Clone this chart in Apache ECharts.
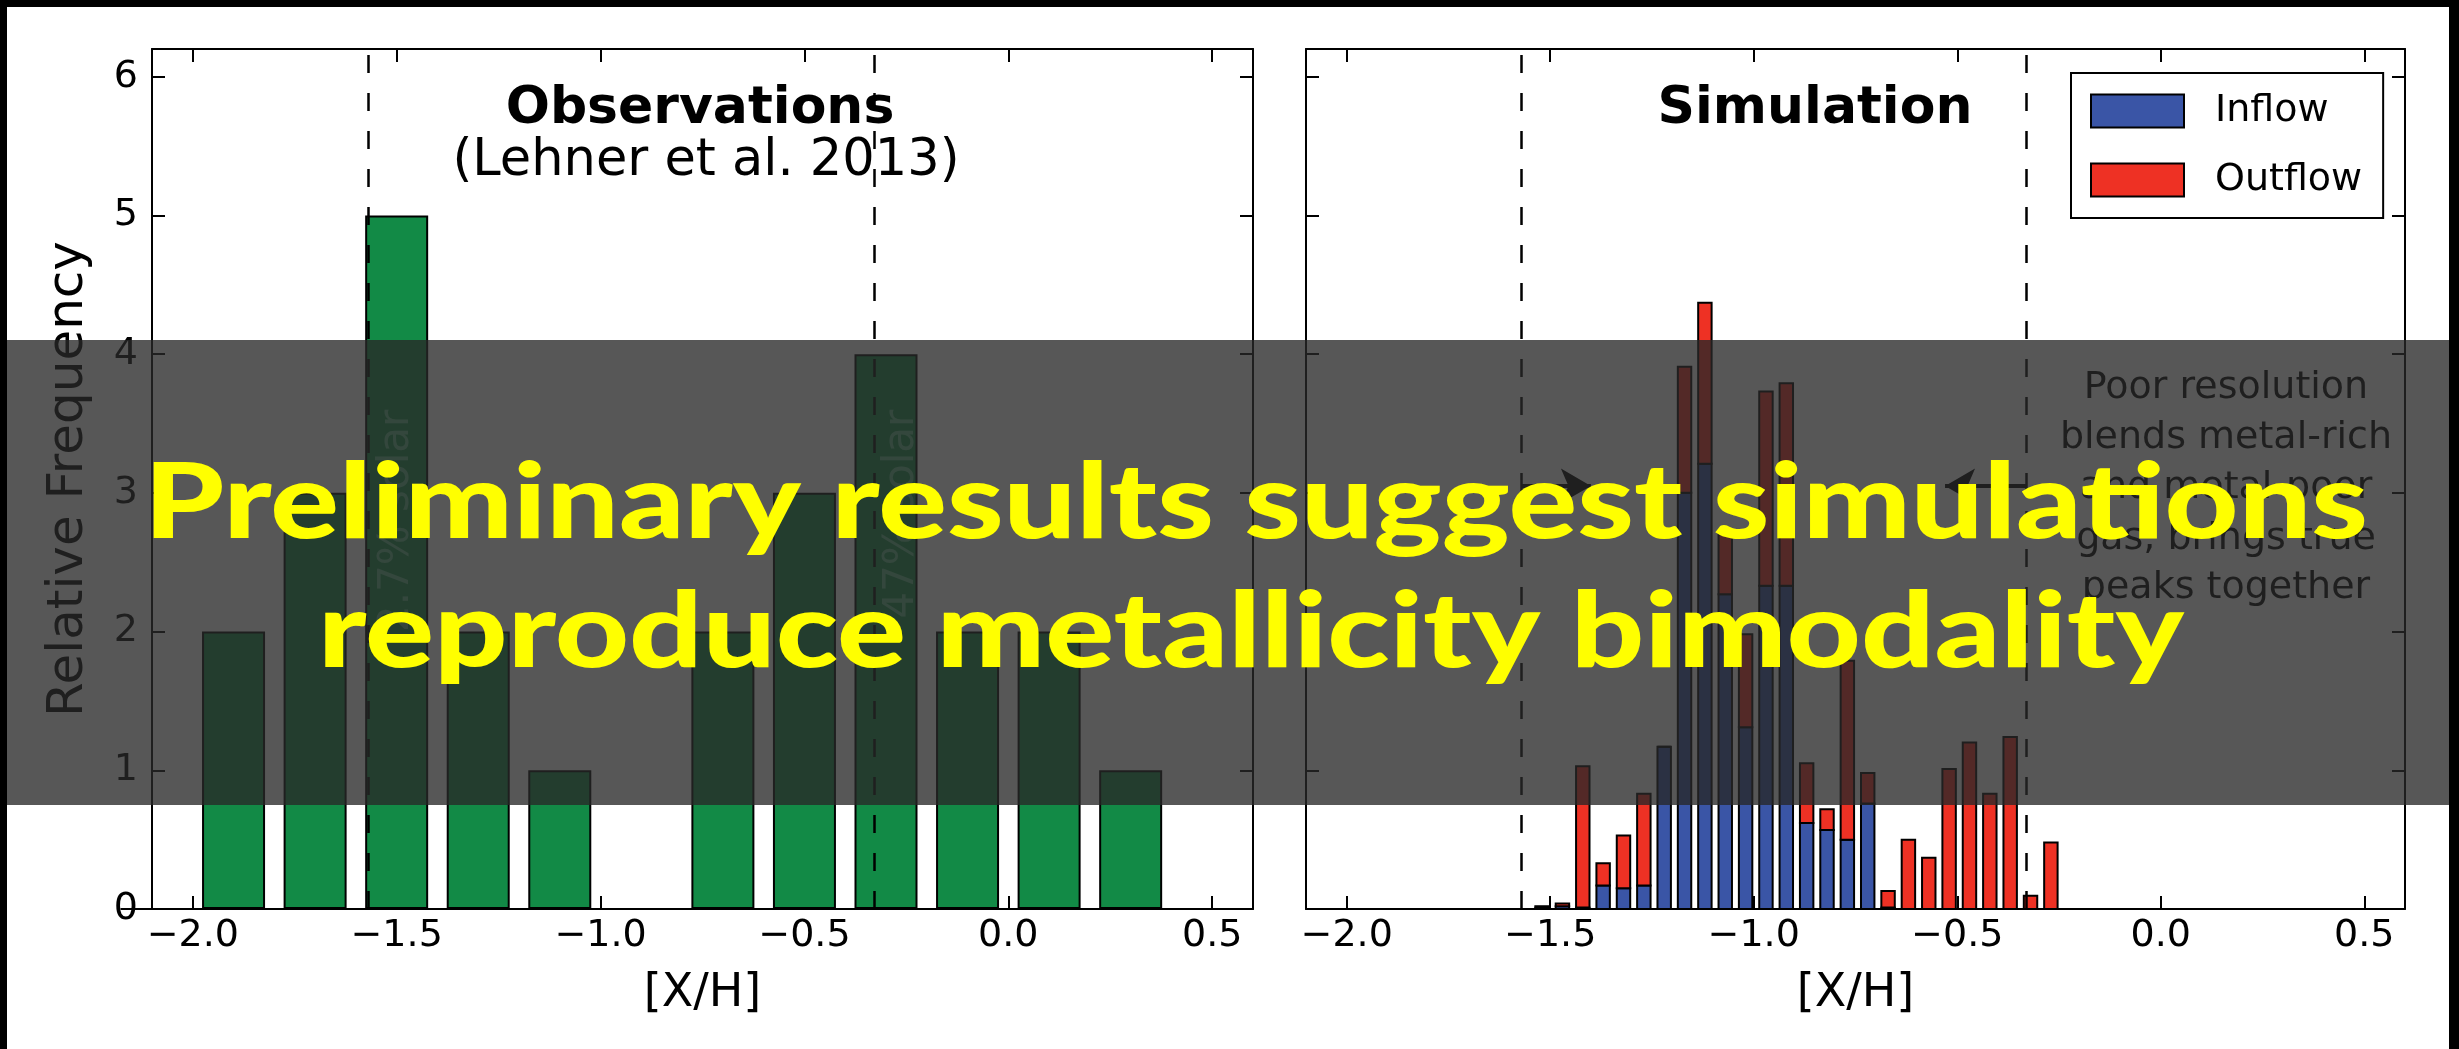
<!DOCTYPE html>
<html>
<head>
<meta charset="utf-8">
<title>Metallicity distributions: observations vs simulation</title>
<script src="https://cdn.jsdelivr.net/npm/echarts@6/dist/echarts.min.js"></script>
<style>
  html, body { margin: 0; padding: 0; background: #000; }
  #chart { width: 2459px; height: 1049px; }
</style>
</head>
<body>
<div id="chart"></div>
<script>
// ---- data -------------------------------------------------------------
// Tick positions shared by both panels
const xTicks = [-2.0, -1.5, -1.0, -0.5, 0.0, 0.5];
const yTicks = [0, 1, 2, 3, 4, 5, 6];

// Observed absorber metallicities (Lehner et al. 2013), bins of 0.2 dex
const obsBins   = [-2.1, -1.9, -1.7, -1.5, -1.3, -1.1, -0.9, -0.7, -0.5, -0.3, -0.1, 0.1, 0.3, 0.5];
const obsCounts = [0, 2, 3, 5, 2, 1, 0, 2, 3, 4, 2, 2, 1, 0];

// Simulated absorbers, bins of 0.05 dex, split into inflowing / outflowing gas
const simBins    = [-1.52, -1.47, -1.42, -1.37, -1.32, -1.27, -1.22, -1.17, -1.12, -1.07, -1.02, -0.97, -0.92,
                    -0.87, -0.82, -0.77, -0.72, -0.67, -0.62, -0.57, -0.52, -0.47, -0.42, -0.37, -0.32, -0.27];
const simInflow  = [0.01, 0.02, 0.01, 0.17, 0.15, 0.17, 1.17, 3.00, 3.21, 2.27, 1.31, 2.33, 2.33,
                    0.62, 0.57, 0.50, 0.76, 0.01, 0, 0, 0, 0, 0, 0, 0, 0];
const simOutflow = [0.01, 0.02, 1.02, 0.16, 0.38, 0.66, 0.00, 0.91, 1.16, 0.43, 0.67, 1.40, 1.46,
                    0.43, 0.15, 1.29, 0.22, 0.12, 0.50, 0.37, 1.01, 1.20, 0.83, 1.24, 0.095, 0.48];

// The two metallicity peaks of the observed bimodal distribution
const peakMetallicity = [-1.57, -0.33];
const peakLabels      = ['2.7% solar', '47% solar'];

// Caption lines
const captionLines = ['Preliminary results suggest simulations', 'reproduce metallicity bimodality'];

// ---- styling ----------------------------------------------------------
const FONT = 'DejaVu Sans';
const GREEN = '#128a46';
const BLUE = '#3a55a6';
const RED = '#ee3124';
const CAPTION_FONT = '900 104px Lato';

const tickLabel = v => (v < 0 ? '\u2212' : '') + Math.abs(v).toFixed(1);

function xAxes(grid) {
  const common = {
    type: 'value', gridIndex: grid, min: -2.1, max: 0.6,
    splitLine: { show: false },
    axisLine: { show: true, onZero: false, lineStyle: { color: '#000', width: 2 } },
    axisTick: { show: true, inside: true, length: 13, customValues: xTicks,
                lineStyle: { color: '#000', width: 2 } }
  };
  return [
    Object.assign({}, common, {
      position: 'bottom',
      axisLabel: { show: true, customValues: xTicks, formatter: tickLabel, margin: 8,
                   fontFamily: FONT, fontSize: 38, color: '#000' },
      name: '[X/H]', nameLocation: 'middle', nameGap: 62,
      nameTextStyle: { fontFamily: FONT, fontSize: 46, color: '#000' }
    }),
    Object.assign({}, common, { position: 'top', axisLabel: { show: false } })
  ];
}

function yAxes(grid, withLabels) {
  const common = {
    type: 'value', gridIndex: grid, min: 0, max: 6.2,
    splitLine: { show: false },
    axisLine: { show: true, onZero: false, lineStyle: { color: '#000', width: 2 } },
    axisTick: { show: true, inside: true, length: 13, customValues: yTicks,
                lineStyle: { color: '#000', width: 2 } }
  };
  return [
    Object.assign({}, common, {
      position: 'left',
      axisLabel: { show: withLabels, customValues: yTicks, margin: 14,
                   fontFamily: FONT, fontSize: 38, color: '#000' },
      name: withLabels ? 'Relative Frequency' : '', nameLocation: 'middle', nameGap: 58,
      nameTextStyle: { fontFamily: FONT, fontSize: 50, color: '#000' }
    }),
    Object.assign({}, common, { position: 'right', axisLabel: { show: false } })
  ];
}

const dashedPeaks = {
  silent: true, symbol: 'none',
  label: { show: false },
  lineStyle: { color: '#000', width: 2.5, type: [18, 20] },
  data: peakMetallicity.map(v => ({ xAxis: v }))
};

// One stacked layer of the simulation histogram: inflow sits on the axis,
// outflow sits on top of the inflow of the same bin.
const simData = simBins.map((x, i) => [x, simInflow[i], simOutflow[i]]);
function simLayer(name, color, onTop) {
  return {
    name: name, type: 'custom', xAxisIndex: 2, yAxisIndex: 2,
    data: simData,
    encode: { x: 0, y: onTop ? [1, 2] : 1 },
    itemStyle: { color: color },
    z: 2,
    renderItem: function (params, api) {
      const x = api.value(0), inflow = api.value(1), outflow = api.value(2);
      const lo = onTop ? inflow : 0;
      const hi = onTop ? inflow + outflow : inflow;
      const base = api.coord([x, lo]);
      const top = api.coord([x, hi]);
      const w = api.size([0.033, 0])[0];
      return {
        type: 'rect',
        shape: { x: base[0] - w / 2, y: top[1], width: w, height: base[1] - top[1] },
        style: { fill: color, stroke: '#000', lineWidth: 2 }
      };
    }
  };
}

const text = (str, x, y, size, weight) => ({
  type: 'text', z: 10, x: x, y: y,
  style: { text: str, fill: '#000', font: (weight || 'normal') + ' ' + size + 'px "' + FONT + '"',
           align: 'center', verticalAlign: 'middle' }
});

// Caption lines are stretched horizontally to a fixed line width.
const measureCtx = document.createElement('canvas').getContext('2d');
measureCtx.font = CAPTION_FONT;
const captionWidths = [2224, 1866];
const caption = (i, x, y) => ({
  type: 'text', z: 101, x: x, y: y,
  scaleX: captionWidths[i] / measureCtx.measureText(captionLines[i]).width,
  style: { text: captionLines[i], fill: '#ffff00', font: CAPTION_FONT,
           align: 'center', verticalAlign: 'middle' }
});

const chart = echarts.init(document.getElementById('chart'), null, { renderer: 'canvas' });

chart.setOption({
  backgroundColor: '#fff',
  animation: false,
  grid: [
    { left: 152, top: 49, width: 1101, height: 860 },
    { left: 1306, top: 49, width: 1099, height: 860 }
  ],
  xAxis: xAxes(0).concat(xAxes(1)),
  yAxis: yAxes(0, true).concat(yAxes(1, false)),
  legend: {
    data: [
      { name: 'Inflow', itemStyle: { color: BLUE, borderColor: '#000', borderWidth: 2 } },
      { name: 'Outflow', itemStyle: { color: RED, borderColor: '#000', borderWidth: 2 } }
    ],
    orient: 'vertical', left: 2071, top: 73,
    icon: 'rect', itemWidth: 93, itemHeight: 33, itemGap: 31,
    padding: [19, 21, 19, 19], borderColor: '#000', borderWidth: 2, backgroundColor: '#fff',
    selectedMode: false,
    textStyle: { fontFamily: FONT, fontSize: 38, color: '#000', lineHeight: 33, padding: [0, 0, 0, 26] }
  },
  series: [
    {
      name: 'Observations', type: 'bar', xAxisIndex: 0, yAxisIndex: 0,
      barWidth: 63,
      itemStyle: { color: GREEN, borderColor: '#000', borderWidth: 2 },
      data: obsBins.map((x, i) => [x, obsCounts[i]]),
      markLine: dashedPeaks
    },
    {
      // rotated metallicity labels beside the dashed peak lines
      type: 'scatter', xAxisIndex: 0, yAxisIndex: 0, symbolSize: 0, silent: true,
      data: peakMetallicity.map((v, i) => ({ value: [v + 0.07, 3.6], name: peakLabels[i] })),
      label: { show: true, position: 'inside', rotate: 90, align: 'right', verticalAlign: 'middle',
               formatter: p => p.name, fontFamily: FONT, fontSize: 42, color: 'rgba(200,240,220,0.55)' },
      z: 5
    },
    simLayer('Inflow', BLUE, false),
    simLayer('Outflow', RED, true),
    {
      // peak markers of the simulation panel
      type: 'line', xAxisIndex: 2, yAxisIndex: 2, data: [], silent: true,
      markLine: dashedPeaks
    },
    {
      // arrows: resolution pulls the two peaks towards each other
      type: 'line', xAxisIndex: 2, yAxisIndex: 2, data: [], silent: true,
      markLine: {
        silent: true, symbol: ['none', 'arrow'], symbolSize: [26, 30],
        label: { show: false },
        lineStyle: { color: '#000', width: 4, type: 'solid' },
        data: [
          [{ coord: [peakMetallicity[0], 3.05] }, { coord: [-1.40, 3.05] }],
          [{ coord: [peakMetallicity[1], 3.05] }, { coord: [-0.53, 3.05] }]
        ]
      }
    }
  ],
  graphic: [
    // slide frame
    { type: 'rect', z: 50, shape: { x: 0, y: 0, width: 2459, height: 7 }, style: { fill: '#000' } },
    { type: 'rect', z: 50, shape: { x: 0, y: 0, width: 7, height: 1049 }, style: { fill: '#000' } },
    { type: 'rect', z: 50, shape: { x: 2449, y: 0, width: 10, height: 1049 }, style: { fill: '#000' } },
    // panel titles
    text('Observations', 700, 109, 52, 'bold'),
    text('(Lehner et al. 2013)', 706, 162, 51, 'normal'),
    text('Simulation', 1815, 109, 52, 'bold'),
    // annotation in the simulation panel
    text('Poor resolution', 2226, 388, 38),
    text('blends metal-rich', 2226, 438, 38),
    text('and metal-poor', 2226, 488, 38),
    text('gas, brings true', 2226, 539, 38),
    text('peaks together', 2226, 588, 38),
    // caption band
    { type: 'rect', z: 100, shape: { x: 7, y: 340, width: 2442, height: 465 },
      style: { fill: 'rgba(40,40,40,0.78)' } },
    caption(0, 1256, 504),
    caption(1, 1251, 633)
  ]
});
</script>
</body>
</html>
